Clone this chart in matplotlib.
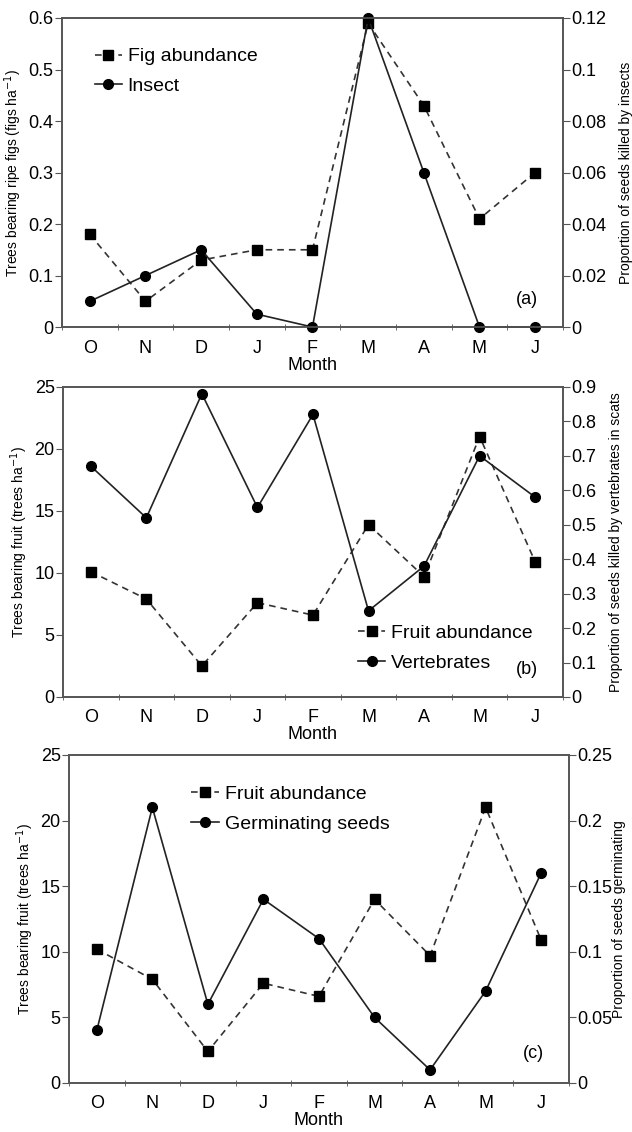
import numpy as np
import matplotlib
matplotlib.use('Agg')
import matplotlib.pyplot as plt
from matplotlib.ticker import FuncFormatter
from matplotlib.legend_handler import HandlerLine2D

plt.rcParams['font.family'] = ['Liberation Sans', 'DejaVu Sans']

months = ['O', 'N', 'D', 'J', 'F', 'M', 'A', 'M', 'J']

# (a) figs and insects
fig_abund = [0.18, 0.05, 0.13, 0.15, 0.15, 0.59, 0.43, 0.21, 0.30]
insect = [0.01, 0.02, 0.03, 0.005, 0.0, 0.12, 0.06, 0.0, 0.0]

# (b) fruit and vertebrates
fruit_b = [10.1, 7.9, 2.5, 7.6, 6.6, 13.9, 9.7, 21.0, 10.9]
vertebrates = [0.67, 0.52, 0.88, 0.55, 0.82, 0.25, 0.38, 0.70, 0.58]

# (c) fruit and germination
fruit_c = [10.2, 7.9, 2.4, 7.6, 6.6, 14.0, 9.7, 21.0, 10.9]
germinating = [0.04, 0.21, 0.06, 0.14, 0.11, 0.05, 0.01, 0.07, 0.16]

spine_col = '#555555'
fmt = FuncFormatter(lambda v, p: '%g' % round(v, 4))


# legend handle: short line with the marker near its right end
class RightMarker(HandlerLine2D):
    def get_xdata(self, legend, xdescent, ydescent, width, height, fontsize):
        xdata = [-xdescent, -xdescent + width]
        xmark = [-xdescent + 0.8 * width]
        return xdata, xmark


def style(ax, ax2):
    for a in (ax, ax2):
        for s in a.spines.values():
            s.set_color(spine_col)
            s.set_linewidth(1.2)
    x = np.arange(len(months))
    ax.set_xticks(x)
    ax.set_xticklabels(months)
    ax.set_xticks(np.arange(len(months) + 1) - 0.5, minor=True)
    ax.tick_params(axis='x', which='major', length=0, pad=9, labelsize=13)
    ax.tick_params(axis='x', which='minor', length=5, direction='inout', color=spine_col)
    ax.tick_params(axis='y', length=5, color=spine_col, labelsize=13, pad=1)
    ax2.tick_params(axis='y', length=5, color=spine_col, labelsize=13, pad=1)
    ax.set_xlim(-0.5, len(months) - 0.5)
    ax.set_xlabel('Month', fontsize=13, labelpad=0)
    ax.yaxis.set_major_formatter(fmt)
    ax2.yaxis.set_major_formatter(fmt)


fig = plt.figure(figsize=(6.32, 11.32), dpi=100)
x = np.arange(len(months))

panels = [
    ([0.0981, 0.7111, 0.7927, 0.2730], fig_abund, insect, 'Fig abundance', 'Insect',
     'Trees bearing ripe figs (figs ha$^{-1}$)', 'Proportion of seeds killed by insects',
     (0, 0.6), np.arange(0, 0.61, 0.1), (0, 0.12), np.arange(0, 0.121, 0.02), '(a)', 9),
    ([0.0997, 0.3843, 0.7910, 0.2739], fruit_b, vertebrates, 'Fruit abundance', 'Vertebrates',
     'Trees bearing fruit (trees ha$^{-1}$)', 'Proportion of seeds killed by vertebrates in scats',
     (0, 25), np.arange(0, 26, 5), (0, 0.9), np.arange(0, 0.91, 0.1), '(b)', 9),
    ([0.1092, 0.0433, 0.7910, 0.2898], fruit_c, germinating, 'Fruit abundance', 'Germinating seeds',
     'Trees bearing fruit (trees ha$^{-1}$)', 'Proportion of seeds germinating',
     (0, 25), np.arange(0, 26, 5), (0, 0.25), np.arange(0, 0.251, 0.05), '(c)', 0),
]

axes = []
for rect, left, right, lname, rname, ylab, ylab2, ylim, yt, ylim2, yt2, tag, rpad in panels:
    ax = fig.add_axes(rect)
    ax2 = ax.twinx()
    l1, = ax.plot(x, left, ls=(0, (4, 3)), color='#333333', lw=1.2,
                  marker='s', ms=7.5, mfc='black', mec='black', label=lname)
    l2, = ax2.plot(x, right, ls='-', color='#222222', lw=1.2,
                   marker='o', ms=7, mfc='black', mec='black', label=rname, clip_on=False)
    ax.set_ylim(*ylim)
    ax.set_yticks(yt)
    ax2.set_ylim(*ylim2)
    ax2.set_yticks(yt2)
    ax.set_ylabel(ylab, fontsize=10, labelpad=3)
    ax2.set_ylabel(ylab2, fontsize=10, labelpad=rpad)
    style(ax, ax2)
    ax.text(0.95, 0.09, tag, transform=ax.transAxes, fontsize=13, ha='right', va='center')
    axes.append((ax, ax2, l1, l2))

leg_locs = [(0.03, 0.96), (0.555, 0.29), (0.21, 0.96)]
for (ax, ax2, l1, l2), loc in zip(axes, leg_locs):
    ax2.legend([l1, l2], [l1.get_label(), l2.get_label()], loc='upper left',
               bbox_to_anchor=loc, frameon=False, fontsize=14, handlelength=1.4,
               handletextpad=0.3, labelspacing=0.62, numpoints=1,
               handler_map={l1: RightMarker(), l2: RightMarker()})

fig.savefig('out.png', dpi=100)
